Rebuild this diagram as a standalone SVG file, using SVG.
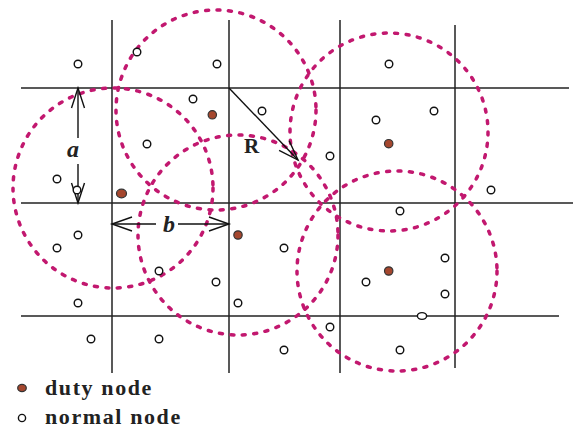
<svg xmlns="http://www.w3.org/2000/svg" width="573" height="431" viewBox="0 0 573 431">
<style>
.grid{stroke:#222;stroke-width:1.5;fill:none}
.range{fill:none;stroke:#c2186f;stroke-width:3.5;stroke-dasharray:3 8.5;stroke-linecap:round}
.arr{stroke:#111;stroke-width:1.4;fill:none}
.normal{fill:#fff;stroke:#111;stroke-width:1.4}
.duty{fill:#a5472e;stroke:#333;stroke-width:1.2}
.lbl{font-family:"Liberation Serif",serif;font-weight:bold;fill:#222}
.leg{font-family:"Liberation Serif",serif;font-weight:bold;font-size:22px;fill:#222;letter-spacing:1.6px}
</style>
<rect width="573" height="431" fill="#fff"/>
<g id="grid" class="grid">
<line x1="21" y1="88" x2="569" y2="88"/>
<line x1="21" y1="203" x2="573" y2="203"/>
<line x1="21" y1="316" x2="559" y2="316"/>
<line x1="112" y1="20" x2="112" y2="373"/>
<line x1="229" y1="20" x2="229" y2="373"/>
<line x1="340" y1="20" x2="340" y2="373"/>
<line x1="455" y1="25" x2="455" y2="368"/>
</g>
<g id="ranges">
<circle id="range1" class="range" cx="113" cy="188" r="100"/>
<circle id="range2" class="range" cx="216" cy="110" r="100"/>
<circle id="range3" class="range" cx="238" cy="235" r="100"/>
<circle id="range4" class="range" cx="389" cy="132" r="99"/>
<circle id="range5" class="range" cx="397" cy="271" r="100"/>
</g>
<g id="connectors" class="arr">
<line x1="229" y1="88" x2="298" y2="160"/>
<polyline points="289.2,140.8 298,160 279.1,150.4"/>
<line x1="78" y1="88" x2="78" y2="138"/>
<line x1="78" y1="164" x2="78" y2="203"/>
<polyline points="71.5,108 78,88 84.5,108"/>
<polyline points="71.5,183 78,203 84.5,183"/>
<line x1="112" y1="224" x2="156" y2="224"/>
<line x1="178" y1="224" x2="229" y2="224"/>
<polyline points="132,217 112,224 132,231"/>
<polyline points="209,217 229,224 209,231"/>
</g>
<g id="labels">
<text class="lbl" x="244" y="153" font-size="21">R</text>
<text class="lbl" x="73" y="157" font-size="24" font-style="italic" text-anchor="middle">a</text>
<text class="lbl" x="169" y="232" font-size="24" font-style="italic" text-anchor="middle">b</text>
</g>
<g id="normal-nodes" class="normal">
<circle cx="78" cy="64" r="3.8"/>
<circle cx="137" cy="52" r="3.8"/>
<circle cx="217" cy="64" r="3.8"/>
<circle cx="193" cy="99" r="3.8"/>
<circle cx="262" cy="111" r="3.8"/>
<circle cx="147" cy="144" r="3.8"/>
<circle cx="57" cy="179" r="3.8"/>
<circle cx="77" cy="190" r="3.8"/>
<circle cx="389" cy="64" r="3.8"/>
<circle cx="376" cy="120" r="3.8"/>
<circle cx="434" cy="111" r="3.8"/>
<circle cx="330" cy="156" r="3.8"/>
<circle cx="491" cy="190" r="3.8"/>
<circle cx="400" cy="211" r="3.8"/>
<circle cx="78" cy="235" r="3.8"/>
<circle cx="57" cy="248" r="3.8"/>
<circle cx="159" cy="271" r="3.8"/>
<circle cx="216" cy="282" r="3.8"/>
<circle cx="78" cy="303" r="3.8"/>
<circle cx="238" cy="303" r="3.8"/>
<circle cx="284" cy="248" r="3.8"/>
<circle cx="91" cy="339" r="3.8"/>
<circle cx="159" cy="339" r="3.8"/>
<circle cx="284" cy="350" r="3.8"/>
<circle cx="445" cy="258" r="3.8"/>
<circle cx="366" cy="282" r="3.8"/>
<circle cx="445" cy="294" r="3.8"/>
<ellipse cx="422" cy="316" rx="4.6" ry="3.4"/>
<circle cx="330" cy="327" r="3.8"/>
<circle cx="400" cy="350" r="3.8"/>
</g>
<g id="duty-nodes" class="duty">
<ellipse cx="121.5" cy="193.5" rx="5" ry="4.3"/>
<circle cx="212.3" cy="114.8" r="4.2"/>
<circle cx="238" cy="235" r="4.2"/>
<circle cx="388.7" cy="143.7" r="4.2"/>
<circle cx="388.7" cy="271" r="4.2"/>
</g>
<g id="legend">
<ellipse class="duty" cx="22" cy="388" rx="4.3" ry="3.6"/>
<text class="leg" x="45" y="395">duty node</text>
<circle class="normal" cx="22" cy="418" r="3.6"/>
<text class="leg" x="45" y="424">normal node</text>
</g>
</svg>
